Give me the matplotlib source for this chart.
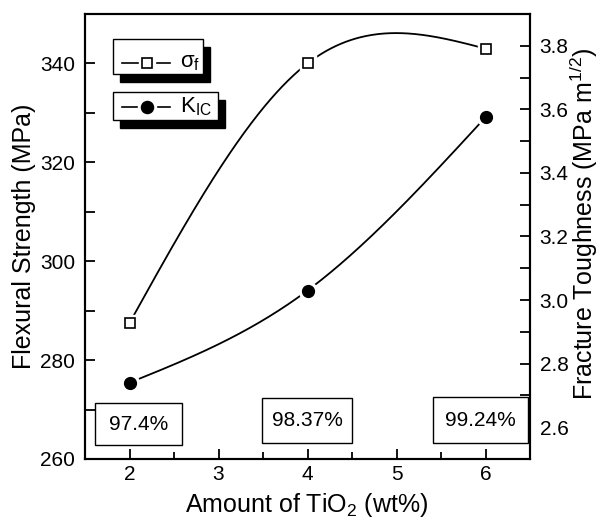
import numpy as np
import matplotlib.pyplot as plt
from matplotlib.patches import Rectangle
from matplotlib.lines import Line2D

plt.rcParams['font.family'] = ['Liberation Sans', 'DejaVu Sans']
plt.rcParams['mathtext.fontset'] = 'custom'
plt.rcParams['mathtext.rm'] = 'Liberation Sans'
plt.rcParams['mathtext.it'] = 'Liberation Sans:italic'
plt.rcParams['mathtext.sf'] = 'Liberation Sans'

# Data
tio2 = [2, 4, 6]
flexural = [287.5, 340.0, 343.0]      # MPa
toughness = [2.74, 3.03, 3.575]       # MPa m^1/2
density_labels = ["97.4%", "98.37%", "99.24%"]


def natural_spline(x, y, xs):
    # natural cubic spline, like Origin's "spline" connect
    x = np.asarray(x, float)
    y = np.asarray(y, float)
    n = len(x)
    h = np.diff(x)
    A = np.zeros((n, n))
    b = np.zeros(n)
    A[0, 0] = 1
    A[-1, -1] = 1
    for i in range(1, n - 1):
        A[i, i - 1] = h[i - 1]
        A[i, i] = 2 * (h[i - 1] + h[i])
        A[i, i + 1] = h[i]
        b[i] = 6 * ((y[i + 1] - y[i]) / h[i] - (y[i] - y[i - 1]) / h[i - 1])
    M = np.linalg.solve(A, b)
    out = np.empty_like(xs)
    for k, xv in enumerate(xs):
        i = min(max(np.searchsorted(x, xv) - 1, 0), n - 2)
        t0 = x[i + 1] - xv
        t1 = xv - x[i]
        out[k] = (M[i] * t0**3 + M[i + 1] * t1**3) / (6 * h[i]) \
            + (y[i] / h[i] - M[i] * h[i] / 6) * t0 \
            + (y[i + 1] / h[i] - M[i + 1] * h[i] / 6) * t1
    return out


W, H = 601, 520
fig = plt.figure(figsize=(W / 100, H / 100), dpi=100)
ax = fig.add_axes([85 / W, 1 - 459 / H, 445 / W, 445 / H])
ax2 = ax.twinx()


def px(x, y):
    return (x / W, 1 - y / H)


xs = np.linspace(2, 6, 300)

# flexural strength (left axis)
ax.plot(xs, natural_spline(tio2, flexural, xs), color='black', lw=1.3, zorder=2)
ax.plot(tio2, flexural, 's', ms=11, mfc='white', mec='white', zorder=3)
ax.plot(tio2, flexural, 's', ms=7, mfc='white', mec='black', mew=1.2, zorder=4)

# fracture toughness (right axis)
ax2.plot(xs, natural_spline(tio2, toughness, xs), color='black', lw=1.3, zorder=2)
ax2.plot(tio2, toughness, 'o', ms=13, mfc='white', mec='white', zorder=3)
ax2.plot(tio2, toughness, 'o', ms=8.5, color='black', zorder=4)

ax.set_xlim(1.5, 6.5)
ax.set_ylim(260, 350)
ax2.set_ylim(2.5, 3.9)

ax.set_xticks([2, 3, 4, 5, 6])
ax.set_xticks(np.arange(2.5, 6.5, 1.0), minor=True)
ax.set_yticks([260, 280, 300, 320, 340])
ax.set_yticks([270, 290, 310, 330], minor=True)
ax2.set_yticks([2.6, 2.8, 3.0, 3.2, 3.4, 3.6, 3.8])
ax2.set_yticks(np.arange(2.5, 3.95, 0.2), minor=True)
ax2.set_yticklabels(["2.6", "2.8", "3.0", "3.2", "3.4", "3.6", "3.8"])

ax.tick_params(axis='x', which='major', direction='in', length=7, width=1.3,
               labelsize=15, pad=4, top=False)
ax.tick_params(axis='x', which='minor', direction='in', length=5, width=1.3, top=False)
ax.tick_params(axis='y', which='major', direction='in', length=7, width=1.3,
               labelsize=15, pad=7, right=False)
ax.tick_params(axis='y', which='minor', direction='in', length=7, width=1.3, right=False)
ax2.tick_params(axis='y', which='major', direction='in', length=7, width=1.3,
                labelsize=15, pad=7)
ax2.tick_params(axis='y', which='minor', direction='in', length=7, width=1.3)

for a in (ax, ax2):
    for s in a.spines.values():
        s.set_linewidth(1.5)

ax.set_xlabel("Amount of TiO$_2$ (wt%)", fontsize=18)
ax.set_ylabel("Flexural Strength (MPa)", fontsize=18)
ax2.set_ylabel("Fracture Toughness (MPa m$^{1/2}$)", fontsize=18)
ax.xaxis.set_label_coords((307 - 85) / 445, (459 - 505) / 445)
ax.xaxis.label.set_verticalalignment('center')
ax.yaxis.set_label_coords((24 - 85) / 445, 0.5)
ax.yaxis.label.set_verticalalignment('center')
ax2.yaxis.set_label_coords((584 - 85) / 445, (459 - 224) / 445)
ax2.yaxis.label.set_verticalalignment('center')

# density boxes along the bottom
boxes = [(95, 403, 182, 445), (262, 398, 352, 443), (433, 397, 528, 443)]
for (x0, y0, x1, y1), lab in zip(boxes, density_labels):
    fig.patches.append(Rectangle(px(x0, y1), (x1 - x0) / W, (y1 - y0) / H,
                                 transform=fig.transFigure, fc='white', ec='black',
                                 lw=1.0, zorder=5))
    cx, cy = px((x0 + x1) / 2, (y0 + y1) / 2)
    fig.text(cx, cy, lab, ha='center', va='center', fontsize=15, zorder=6)

# legend boxes with drop shadow
leg = [((113, 39, 203, 74), 's', 'white', "σ$_{\\mathrm{f}}$", 63),
       ((113, 92, 218, 120), 'o', 'black', "K$_{\\mathrm{IC}}$", 107)]
for (x0, y0, x1, y1), mk, fc, lab, ly in leg:
    fig.patches.append(Rectangle(px(x0 + 7, y1 + 8), (x1 - x0) / W, (y1 - y0) / H,
                                 transform=fig.transFigure, fc='black', ec='black',
                                 lw=1.0, zorder=5))
    fig.patches.append(Rectangle(px(x0, y1), (x1 - x0) / W, (y1 - y0) / H,
                                 transform=fig.transFigure, fc='white', ec='black',
                                 lw=1.0, zorder=6))
    lx0, lyy = px(122, ly)
    lx1, _ = px(170, ly)
    mx, _ = px(147, ly)
    fig.lines.append(Line2D([lx0, lx1], [lyy, lyy], transform=fig.transFigure,
                            color='black', lw=1.2, zorder=7))
    fig.lines.append(Line2D([mx], [lyy], transform=fig.transFigure, marker=mk,
                            ms=11 if mk == 's' else 13, mfc='white', mec='white',
                            ls='none', zorder=8))
    fig.lines.append(Line2D([mx], [lyy], transform=fig.transFigure, marker=mk,
                            ms=7 if mk == 's' else 8.5, mfc=fc, mec='black', mew=1.2,
                            ls='none', zorder=9))
    tx, ty = px(180, ly)
    fig.text(tx, ty, lab, ha='left', va='center', fontsize=16, zorder=10)

fig.savefig("out.png", dpi=100)
